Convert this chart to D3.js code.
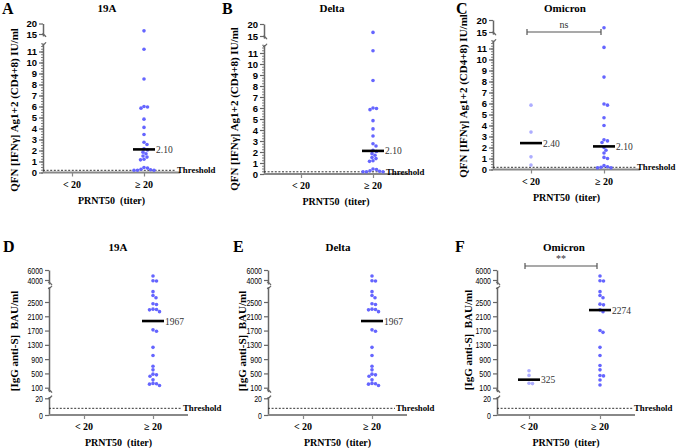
<!DOCTYPE html>
<html><head><meta charset="utf-8">
<script src="https://cdn.jsdelivr.net/npm/d3@7"></script>
<style>body{margin:0;background:#fff}svg{display:block}</style>
</head><body><svg id="c" width="676" height="448"></svg>
<script>
// ---------------- DATA ----------------
const categories = ["< 20", "\u2265 20"];
const variants = ["19A", "Delta", "Omicron"];
const topLetters = ["A", "B", "C"];
const bottomLetters = ["D", "E", "F"];
const qfnTitle = "QFN [IFN\u03b3] Ag1+2 (CD4+8) IU/ml";
const iggTitle = "[IgG anti-S]  BAU/ml";
const xTitle = "PRNT50  (titer)";

// QFN IFN-gamma (IU/ml), PRNT50 >= 20 / < 20
const qfn19AHigh = [16.5, 11.2, 8.5, 6.0, 5.95, 5.85, 4.85, 4.1, 3.45, 2.75, 2.55, 2.15, 2.05, 1.85, 1.7, 1.5, 1.4, 1.2, 1.15, 0.45, 0.4, 0.3, 0.25, 0.2, 0.2, 0.2];
const qfnDeltaHigh = [16.5, 11.2, 8.5, 6.0, 5.95, 5.85, 4.85, 4.1, 3.45, 2.75, 2.55, 2.15, 2.05, 1.85, 1.7, 1.5, 1.4, 1.2, 1.15, 0.45, 0.4, 0.3, 0.25, 0.2, 0.2, 0.2];
const qfnOmicronLow = [5.85, 3.4, 1.15, 0.4];
const qfnOmicronHigh = [16.8, 11.1, 8.4, 5.95, 5.85, 4.7, 4.0, 2.7, 2.6, 2.45, 2.0, 1.75, 1.5, 1.1, 1.0, 0.35, 0.25, 0.2, 0.15, 0.15];
const qfnMedians = [[null, 2.10], [null, 2.10], [2.40, 2.10]];
const qfnMedianLabels = [[null, "2.10"], [null, "2.10"], ["2.40", "2.10"]];
const qfnThreshold = 0.2;
const qfnTicksLow = [0,1,2,3,4,5,6,7,8,9,10,11];
const qfnTicksHigh = [15, 20];

// IgG anti-S (BAU/ml)
const igg19AHigh = [4800, 3850, 3800, 2790, 2680, 2620, 2450, 2430, 2300, 2290, 2280, 2230, 1720, 1680, 1230, 1000, 700, 600, 480, 460, 420, 320, 220, 210, 200, 160];
const iggDeltaHigh = [4800, 3850, 3800, 2790, 2680, 2620, 2450, 2430, 2300, 2290, 2280, 2230, 1720, 1680, 1230, 1000, 700, 600, 480, 460, 420, 320, 220, 210, 200, 160];
const iggOmicronLow = [575, 445, 225, 215];
const iggOmicronHigh = [4800, 3850, 3800, 2790, 2680, 2620, 2440, 2420, 2280, 2230, 1700, 1650, 1230, 1000, 720, 600, 440, 430, 315, 175];
const iggMedians = [[null, 1967], [null, 1967], [325, 2274]];
const iggMedianLabels = [[null, "1967"], [null, "1967"], ["325", "2274"]];
const iggThreshold = 8;
const iggTicksLow = [0, 20];
const iggTicksMid = [100, 500, 900, 1300, 1700, 2100, 2500];
const iggTicksHigh = [4000, 6000];
const sigLabels = [null, null, "ns"];
const sigLabelsIgg = [null, null, "**"];

const qfnGroups = [[[], qfn19AHigh], [[], qfnDeltaHigh], [qfnOmicronLow, qfnOmicronHigh]];
const iggGroups = [[[], igg19AHigh], [[], iggDeltaHigh], [iggOmicronLow, iggOmicronHigh]];

// ---------------- LAYOUT ----------------
const SERIF = "'Liberation Serif','Times New Roman',serif";
const SANS = "'Liberation Sans',Arial,sans-serif";
const AXIS = "#666";
const DOT = "#6565ff";
const DOT_LIGHT = "#adadff";

const topLayout = [
  {ax:43, c1:72, c2:144, end:180, y0:172.5, y15:34, y20:23.5, letterX:2, titleX:107, yTitleX:14, yTitleY:110, thrX:177},
  {ax:264, c1:301, c2:373, end:408, y0:174, y15:36, y20:24, letterX:222, titleX:332, yTitleX:234, yTitleY:109, thrX:386},
  {ax:493, c1:531, c2:604, end:640, y0:169.5, y15:32, y20:20, letterX:456, titleX:565, yTitleX:463, yTitleY:96, thrX:637}
];
const botLayout = [
  {ax:49, c1:84, c2:153, end:188, letterX:3, titleX:118, yTitleX:14, yTitleY:341, thrX:183},
  {ax:268, c1:303, c2:372, end:407, letterX:233, titleX:338, yTitleX:242, yTitleY:341, thrX:396},
  {ax:497, c1:529, c2:600, end:635, letterX:455, titleX:564, yTitleX:468, yTitleY:340, thrX:634}
];

const svg = d3.select("#c");

function swarm(vals, yf, cx, r) {
  const D = 2 * r - 0.2;
  const pts = vals.map(v => ({v, y: yf(v)})).sort((a, b) => a.y - b.y);
  const placed = [];
  for (const p of pts) {
    let best = cx;
    for (let k = 0; k < 200; k++) {
      const off = (k % 2 ? 1 : -1) * Math.ceil(k / 2) * 0.5;
      const x = cx + off;
      if (placed.every(q => Math.hypot(q.x - x, q.y - p.y) >= D)) { best = x; break; }
    }
    p.x = best; placed.push(p);
  }
  return placed;
}

function breakMark(g, x, y, dir) {
  g.append("path")
    .attr("d", `M${x - 1},${y + 2 * dir} q3,${-1 * dir} 4,${-3 * dir}`)
    .attr("fill", "none").attr("stroke", AXIS).attr("stroke-width", 1.2);
}

function styleAxis(g, fontWeight, fontSize, charW) {
  g.select(".domain").attr("stroke", AXIS).attr("stroke-width", 1.5);
  g.selectAll(".tick line").attr("stroke", AXIS).attr("stroke-width", 1.2);
  const t = g.selectAll(".tick text").attr("fill", "#000").attr("font-family", SANS)
    .attr("font-weight", fontWeight).attr("font-size", fontSize);
  if (charW) {
    t.attr("textLength", function () { return this.textContent.length * charW; })
     .attr("lengthAdjust", "spacingAndGlyphs");
  }
}

function drawPanel(L, opt) {
  const g = svg.append("g");
  const x = d3.scalePoint().domain(categories).range([L.c1, L.c2]);
  opt.segments.forEach(seg => {
    const a = d3.axisLeft(seg.scale).tickValues(seg.ticks).tickSize(4).tickSizeOuter(0).tickPadding(2)
      .tickFormat(d3.format("d"));
    const ga = g.append("g").attr("transform", `translate(${L.ax},0)`).call(a);
    styleAxis(ga, opt.tickWeight, opt.tickSize, opt.charW);
    if (seg.minor) {
      const m = d3.axisLeft(seg.scale).tickValues(seg.minor).tickSize(2).tickFormat("").tickSizeOuter(0);
      const gm = g.append("g").attr("transform", `translate(${L.ax},0)`).call(m);
      gm.select(".domain").remove();
      gm.selectAll(".tick line").attr("stroke", AXIS).attr("stroke-width", 0.8);
    }
    const [r0, r1] = seg.scale.range();
    if (seg.breakBottom) breakMark(g, L.ax, r0, -1);
    if (seg.breakTop) breakMark(g, L.ax, r1, 1);
  });
  // x axis
  const xa = d3.axisBottom(x).tickSize(4).tickSizeOuter(0).tickFormat("");
  const gx = g.append("g").attr("transform", `translate(0,${opt.yBase})`).call(xa);
  gx.select(".domain").attr("d", `M${L.ax},0H${L.end}`).attr("stroke", "#888").attr("stroke-width", 1.8);
  gx.selectAll(".tick line").attr("stroke", "#888").attr("stroke-width", 1.2);
  categories.forEach(c => {
    g.append("text").attr("x", x(c)).attr("y", opt.yBase + 15).attr("text-anchor", "middle")
      .attr("font-family", SERIF).attr("font-weight", "bold").attr("font-size", 10).text(c);
  });
  g.append("text").attr("x", (L.ax + L.end) / 2).attr("y", opt.yBase + 31).attr("text-anchor", "middle")
    .attr("font-family", SERIF).attr("font-weight", "bold").attr("font-size", 10)
    .style("white-space", "pre").text(xTitle);
  // threshold
  const ty = opt.yf(opt.threshold);
  g.append("line").attr("x1", L.ax).attr("x2", L.thrX - 1).attr("y1", ty).attr("y2", ty)
    .attr("stroke", "#333").attr("stroke-width", 1).attr("stroke-dasharray", "2,1.6");
  g.append("text").attr("x", L.thrX).attr("y", ty + 3).attr("font-family", SERIF).attr("font-weight", "bold")
    .attr("font-size", 8.8).text("Threshold");
  // titles
  g.append("text").attr("x", L.letterX).attr("y", opt.letterY).attr("font-family", SERIF).attr("font-weight", "bold")
    .attr("font-size", 16).text(opt.letter);
  g.append("text").attr("x", L.titleX).attr("y", opt.titleY).attr("text-anchor", "middle").attr("font-family", SERIF)
    .attr("font-weight", "bold").attr("font-size", 11).text(opt.title);
  g.append("text").attr("transform", `translate(${L.yTitleX + 4},${L.yTitleY}) rotate(-90)`).attr("text-anchor", "middle")
    .attr("font-family", SERIF).attr("font-weight", "bold").attr("font-size", 11).style("white-space", "pre").text(opt.yTitle);
  // dots
  opt.groups.forEach((vals, i) => {
    const pts = swarm(vals, opt.yf, x(categories[i]), 1.8);
    g.selectAll(null).data(pts).enter().append("circle")
      .attr("cx", d => d.x).attr("cy", d => d.y).attr("r", 1.8)
      .attr("fill", opt.groups[0].length && i === 0 ? DOT_LIGHT : DOT);
  });
  // medians
  opt.medians.forEach((m, i) => {
    if (m == null) return;
    const cx = x(categories[i]), my = opt.yf(m);
    g.append("line").attr("x1", cx - 11).attr("x2", cx + 11).attr("y1", my).attr("y2", my)
      .attr("stroke", "#000").attr("stroke-width", 2.6);
    g.append("text").attr("x", cx + 12).attr("y", my + 3.5).attr("font-family", SERIF).attr("font-size", 9.5)
      .attr("fill", "#333").text(opt.medianLabels[i]);
  });
  // significance
  if (opt.sig) {
    const x1 = L.c1 - 4, x2 = L.c2 - 3, by = opt.sigY;
    g.append("path").attr("d", `M${x1},${by - 3}V${by + 3}M${x1},${by}H${x2}M${x2},${by - 3}V${by + 3}`)
      .attr("fill", "none").attr("stroke", "#555").attr("stroke-width", 1.2);
    g.append("text").attr("x", (x1 + x2) / 2).attr("y", by - 4).attr("text-anchor", "middle")
      .attr("font-family", SERIF).attr("font-size", 10).attr("fill", "#333").text(opt.sig);
  }
}

// top row
topLayout.forEach((L, i) => {
  const low = d3.scaleLinear().domain([0, 11.75]).range([L.y0, L.y0 - 11.75 * 11]);
  const k = (L.y15 - L.y20) / 5;
  const high = d3.scaleLinear().domain([14.1, 20]).range([L.y20 + 5.9 * k, L.y20]);
  const yf = v => v <= 12.5 ? low(v) : high(v);
  drawPanel(L, {
    segments: [
      {scale: low, ticks: qfnTicksLow, minor: d3.range(0, 11.76, 0.25), breakTop: true},
      {scale: high, ticks: qfnTicksHigh, breakBottom: true}
    ],
    tickWeight: "bold", tickSize: 9.5, charW: 0,
    yBase: L.y0, yf, threshold: qfnThreshold,
    letter: topLetters[i], letterY: 14, title: variants[i], titleY: 12, yTitle: qfnTitle,
    groups: qfnGroups[i], medians: qfnMedians[i], medianLabels: qfnMedianLabels[i],
    sig: sigLabels[i], sigY: L.y20 + 12
  });
});

// bottom row
botLayout.forEach((L, i) => {
  const low = d3.scaleLinear().domain([0, 22]).range([415, 415 - 22 * (16.7 / 20)]);
  const midK = 85.7 / 2400;
  const mid = d3.scaleLinear().domain([-10, 2930]).range([387.7 + 110 * midK, 387.7 - 2830 * midK]);
  const high = d3.scaleLinear().domain([3200, 6000]).range([280 + 800 * 0.005, 270]);
  const yf = v => v < 50 ? low(v) : (v < 3000 ? mid(v) : high(v));
  drawPanel(L, {
    segments: [
      {scale: low, ticks: iggTicksLow, breakTop: true},
      {scale: mid, ticks: iggTicksMid, breakTop: true, breakBottom: true},
      {scale: high, ticks: iggTicksHigh, breakBottom: true}
    ],
    tickWeight: "normal", tickSize: 9.5, charW: 3.9,
    yBase: 415, yf, threshold: iggThreshold,
    letter: bottomLetters[i], letterY: 252, title: variants[i], titleY: 251, yTitle: iggTitle,
    groups: iggGroups[i], medians: iggMedians[i], medianLabels: iggMedianLabels[i],
    sig: sigLabelsIgg[i], sigY: 266
  });
});
</script></body></html>
